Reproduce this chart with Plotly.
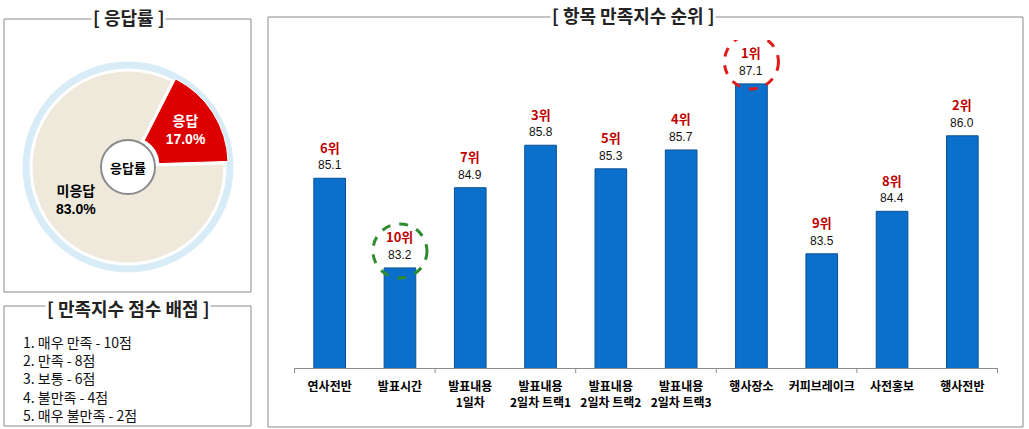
import plotly.graph_objects as go

W, H = 1029, 429

# ---------------- data ----------------
pie_labels = ['응답', '미응답']
pie_values = [17.0, 83.0]

categories = ['연사전반', '발표시간', '발표내용<br>1일차', '발표내용<br>2일차 트랙1',
              '발표내용<br>2일차 트랙2', '발표내용<br>2일차 트랙3', '행사장소',
              '커피브레이크', '사전홍보', '행사전반']
scores = [85.1, 83.2, 84.9, 85.8, 85.3, 85.7, 87.1, 83.5, 84.4, 86.0]
ranks = ['6위', '10위', '7위', '3위', '5위', '4위', '1위', '9위', '8위', '2위']

score_rules = ['1. 매우 만족 - 10점', '2. 만족 - 8점', '3. 보통 - 6점',
               '4. 불만족 - 4점', '5. 매우 불만족 - 2점']

KR = 'Noto Sans CJK KR'


def px(x):
    return x / W


def py(y):
    return 1 - y / H


fig = go.Figure()

# ---------------- pie ----------------
cx, cy, r = 128, 167, 96
pull = 0.05
half = r * (1 + pull)
fig.add_trace(go.Pie(
    labels=pie_labels, values=pie_values, sort=False, direction='clockwise',
    rotation=27, hole=0.28, pull=[pull, 0],
    marker=dict(colors=['#DD0000', '#EEE9DA'], line=dict(color='white', width=1)),
    texttemplate='<b>%{label}</b><br><b>%{percent:.1%}</b>',
    textposition='inside', insidetextorientation='horizontal',
    textfont=dict(family='Liberation Sans, Noto Sans CJK KR', size=14, color=['white', 'black']),
    showlegend=False, hoverinfo='label+percent',
    domain=dict(x=[px(cx - half), px(cx + half)], y=[py(cy + half), py(cy - half)]),
))

# ---------------- bars ----------------
fig.add_trace(go.Bar(
    x=categories, y=scores, width=0.45,
    marker=dict(color='#0B70CC', line=dict(color='#0A4F94', width=1)),
    showlegend=False, hoverinfo='x+y',
))

y_lo, y_hi = 81.08, 88.03
fig.update_layout(
    width=W, height=H,
    margin=dict(l=0, r=0, t=0, b=0),
    paper_bgcolor='white', plot_bgcolor='rgba(0,0,0,0)',
    xaxis=dict(domain=[px(294), px(998)], showline=True, linecolor='#8C8C8C',
               linewidth=1, ticks='', showgrid=False, zeroline=False,
               tickfont=dict(family=KR, size=12, color='black'),
               ticklabelstandoff=8, fixedrange=True,
               tickmode='array', tickvals=categories,
               ticktext=['<b>' + c.replace('<br>', '</b><br><b>') + '</b>' for c in categories]),
    yaxis=dict(domain=[py(368), py(40)], range=[y_lo, y_hi], visible=False,
               showgrid=False, zeroline=False, fixedrange=True),
    font=dict(family=KR),
)

annotations = []
shapes = []

# rank + value labels
for c, v, rk in zip(categories, scores, ranks):
    annotations.append(dict(x=c, y=v, xref='x', yref='y', text=f'<b>{rk}</b>',
                            showarrow=False, xanchor='center', yanchor='middle', yshift=31,
                            font=dict(family=KR, size=13, color='#C00000')))
    annotations.append(dict(x=c, y=v, xref='x', yref='y', text=f'{v:.1f}',
                            showarrow=False, xanchor='center', yanchor='middle', yshift=13,
                            font=dict(family='Liberation Sans', size=12, color='#111111')))

# highlight circles around best and worst
best = scores.index(max(scores))
worst = scores.index(min(scores))
for idx, col, off in [(best, '#E01B1B', 22), (worst, '#2E8B2E', 17)]:
    shapes.append(dict(type='circle', xref='x', yref='y',
                       xsizemode='pixel', ysizemode='pixel',
                       xanchor=idx, yanchor=scores[idx],
                       x0=-27, x1=27, y0=off - 27, y1=off + 27,
                       line=dict(color=col, width=3, dash='dash'), layer='above'))

# tick marks at every second boundary
for b in [-0.5, 1.5, 3.5, 5.5, 7.5, 9.5]:
    shapes.append(dict(type='line', xref='x', yref='paper', x0=b, x1=b,
                       y0=py(368), y1=py(373), line=dict(color='#8C8C8C', width=1)))

# panel boxes
for (x0, y0, x1, y1) in [(4, 19, 251, 292), (4, 306, 251, 426), (268, 17, 1023, 427)]:
    shapes.append(dict(type='rect', xref='paper', yref='paper',
                       x0=px(x0), x1=px(x1), y0=py(y1), y1=py(y0),
                       line=dict(color='#8A8A8A', width=1), layer='below'))

# halo around pie
hr = 102
shapes.append(dict(type='circle', xref='paper', yref='paper',
                   x0=px(cx - hr), x1=px(cx + hr), y0=py(cy + hr), y1=py(cy - hr),
                   line=dict(color='#D8ECF7', width=7), layer='below'))
# ring around hole
hr2 = 27
shapes.append(dict(type='circle', xref='paper', yref='paper',
                   x0=px(cx - hr2), x1=px(cx + hr2), y0=py(cy + hr2), y1=py(cy - hr2),
                   line=dict(color='#8A8A8A', width=2), layer='above'))

annotations.append(dict(x=px(cx), y=py(cy), xref='paper', yref='paper',
                        xanchor='center', yanchor='middle',
                        text='<b>응답률</b>', showarrow=False,
                        font=dict(family=KR, size=13, color='black')))

# panel titles
for txt, x, y in [('[ 응답률 ]', 128, 17), ('[ 만족지수 점수 배점 ]', 128, 308),
                  ('[ 항목 만족지수 순위 ]', 633, 15)]:
    annotations.append(dict(x=px(x), y=py(y), xref='paper', yref='paper',
                            xanchor='center', yanchor='middle',
                            text=f'<b>{txt}</b>', showarrow=False, bgcolor='white',
                            borderpad=1, font=dict(family=KR, size=18, color='#222222')))

# score rules list
annotations.append(dict(x=px(21), y=py(378), xref='paper', yref='paper',
                        xanchor='left', yanchor='middle', align='left',
                        text='<br>'.join(score_rules), showarrow=False,
                        font=dict(family=KR, size=14, color='#111111')))

fig.update_layout(annotations=annotations, shapes=shapes)
fig.write_html('out.html')
